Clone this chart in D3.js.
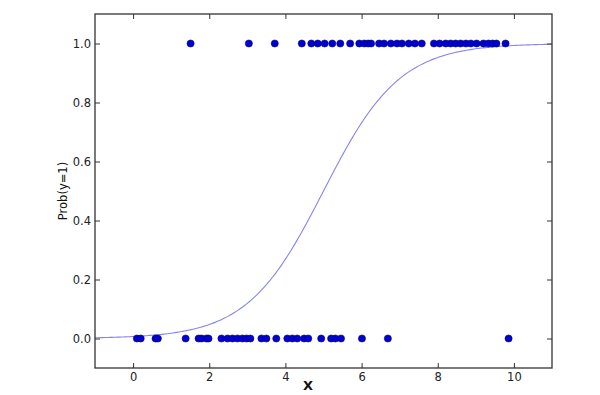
<!DOCTYPE html>
<html lang="en">
<head>
    <meta charset="UTF-8">
    <title>Logistic Regression</title>
    <style>
        body { margin: 0; background: #fff; font-family: "DejaVu Sans", sans-serif; }
        #chart { width: 600px; height: 395px; }
    </style>
</head>
<body>
    <div id="chart"></div>
    <script src="https://d3js.org/d3.v7.min.js"></script>
    <script>
        // observations with y = 1
        const xOnes = [1.51, 3.04, 3.72, 4.43, 4.68, 4.85, 5.03, 5.23, 5.44, 5.70, 5.94, 6.07, 6.17, 6.25,
            6.46, 6.59, 6.77, 6.93, 7.06, 7.24, 7.40, 7.58, 7.90, 8.05, 8.21, 8.34, 8.47, 8.60, 8.74,
            8.87, 9.02, 9.20, 9.33, 9.44, 9.54, 9.78];
        // observations with y = 0
        const xZeros = [0.10, 0.20, 0.59, 0.65, 1.38, 1.72, 1.80, 1.93, 1.98, 2.32, 2.48, 2.61, 2.74,
            2.87, 2.98, 3.08, 3.37, 3.50, 3.76, 4.05, 4.18, 4.31, 4.49, 4.60, 4.94, 5.20, 5.31, 5.46,
            6.01, 6.69, 9.86];
        // fitted logistic model: p = 1 / (1 + exp(-(b0 + b1 * x)))
        const b0 = -5.0, b1 = 1.0;
        const xTicks = [0, 2, 4, 6, 8, 10];
        const yTicks = [0.0, 0.2, 0.4, 0.6, 0.8, 1.0];

        const margin = {top: 14, right: 48, bottom: 27, left: 95},
              width = 600 - margin.left - margin.right,
              height = 395 - margin.top - margin.bottom;

        const svg = d3.select("#chart").append("svg")
            .attr("width", 600).attr("height", 395);
        const g = svg.append("g").attr("transform", `translate(${margin.left},${margin.top})`);

        const x = d3.scaleLinear().domain([-1, 11]).range([0, width]);
        const y = d3.scaleLinear().domain([-0.1, 1.1]).range([height, 0]);

        g.append("defs").append("clipPath").attr("id", "clip")
            .append("rect").attr("width", width).attr("height", height);

        // curve
        const curveX = d3.range(-1, 11.001, 0.05);
        const line = d3.line().x(d => x(d)).y(d => y(1 / (1 + Math.exp(-(b0 + b1 * d)))));
        g.append("path").datum(curveX)
            .attr("d", line)
            .attr("clip-path", "url(#clip)")
            .attr("fill", "none")
            .attr("stroke", "#8585f2")
            .attr("stroke-width", 1.1);

        // points
        const pts = xZeros.map(v => ({x: v, y: 0})).concat(xOnes.map(v => ({x: v, y: 1})));
        g.selectAll(".pt").data(pts).enter().append("circle")
            .attr("class", "pt")
            .attr("cx", d => x(d.x))
            .attr("cy", d => y(d.y))
            .attr("r", 3.6)
            .attr("fill", "#0000d0")
            .attr("stroke", "#00006a")
            .attr("stroke-width", 0.5);

        // axes (matplotlib style: ticks inward on all sides)
        const tickStyle = sel => {
            sel.select(".domain").remove();
            sel.selectAll(".tick line").attr("stroke", "#333").attr("stroke-width", 1);
            sel.selectAll(".tick text").attr("fill", "#222")
                .style("font-family", "DejaVu Sans").style("font-size", "11.5px");
        };
        g.append("g").attr("transform", `translate(0,${height})`)
            .call(d3.axisBottom(x).tickValues(xTicks).tickFormat(d3.format("d")).tickSizeInner(-5).tickPadding(5))
            .call(tickStyle);
        g.append("g")
            .call(d3.axisTop(x).tickValues(xTicks).tickFormat("").tickSizeInner(-5))
            .call(tickStyle);
        g.append("g")
            .call(d3.axisLeft(y).tickValues(yTicks).tickFormat(d3.format(".1f")).tickSizeInner(-5).tickPadding(4))
            .call(tickStyle);
        g.append("g").attr("transform", `translate(${width},0)`)
            .call(d3.axisRight(y).tickValues(yTicks).tickFormat("").tickSizeInner(-5))
            .call(tickStyle);

        g.append("rect")
            .attr("width", width).attr("height", height)
            .attr("fill", "none").attr("stroke", "#333").attr("stroke-width", 1.3);

        // labels
        svg.append("text")
            .attr("x", 308).attr("y", 390)
            .attr("text-anchor", "middle")
            .style("font-family", "DejaVu Sans").style("font-size", "13px").style("font-weight", "bold")
            .attr("fill", "#111")
            .text("X");
        svg.append("text")
            .attr("transform", "translate(67,191) rotate(-90)")
            .attr("text-anchor", "middle")
            .style("font-family", "DejaVu Sans").style("font-size", "11.5px")
            .attr("fill", "#111")
            .text("Prob(y=1)");
    </script>
</body>
</html>
